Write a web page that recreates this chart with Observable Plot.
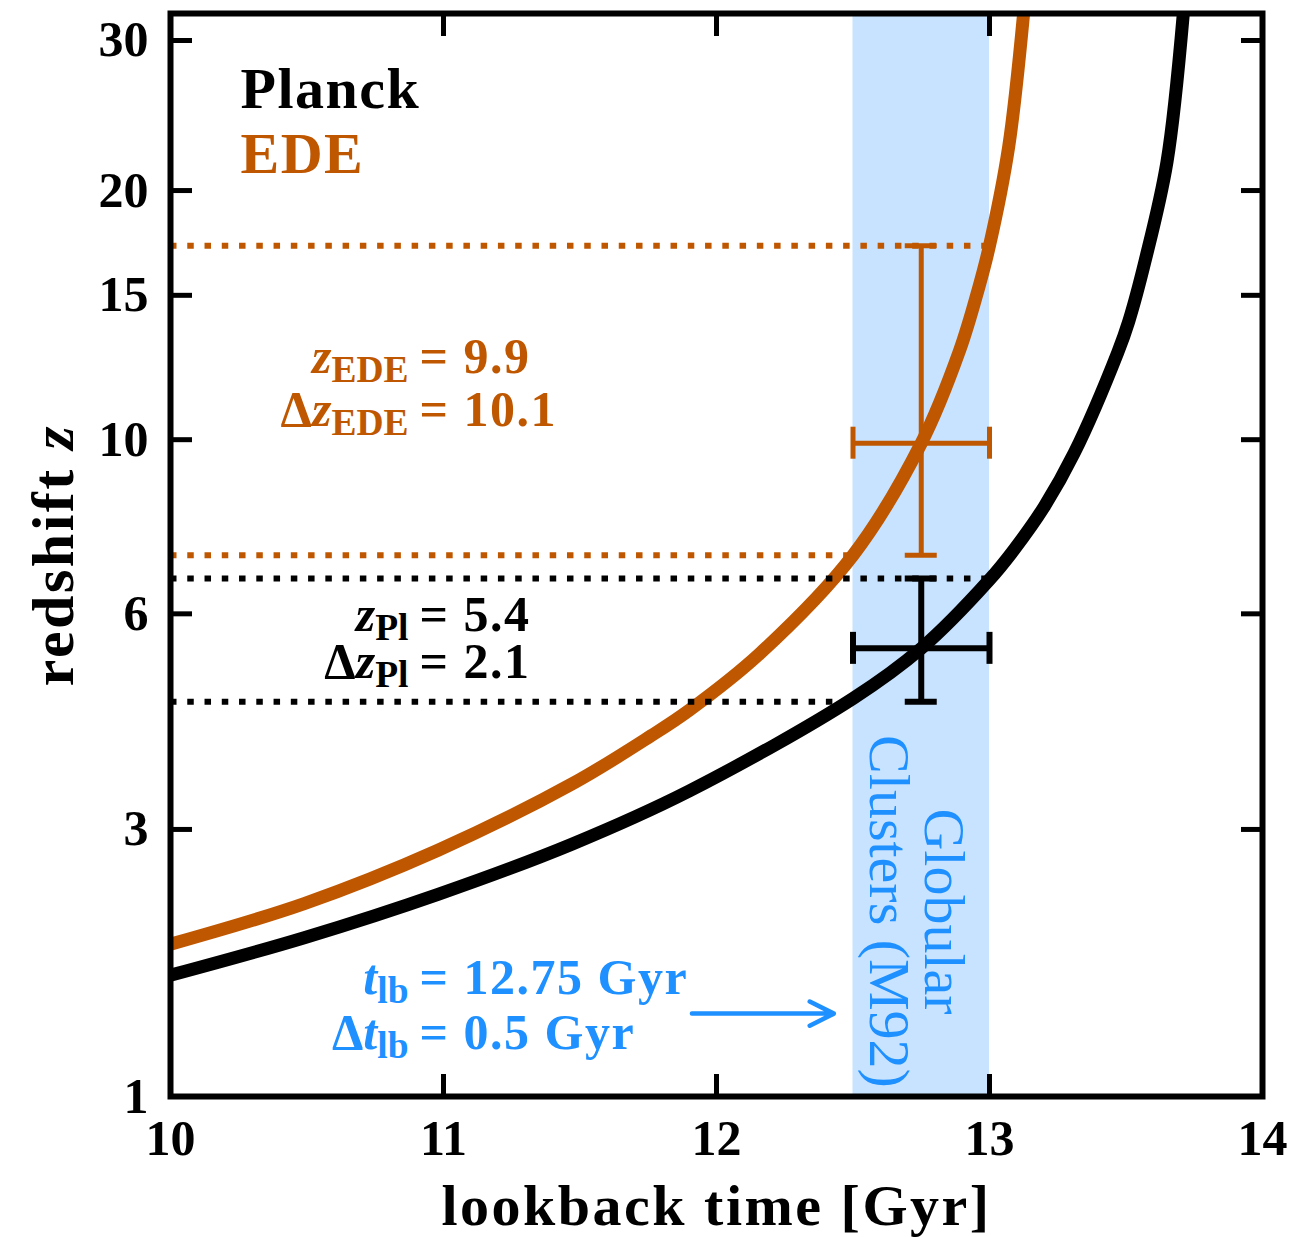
<!DOCTYPE html>
<html>
<head>
<meta charset="utf-8">
<script src="https://cdn.jsdelivr.net/npm/d3@7"></script>
<script src="https://cdn.jsdelivr.net/npm/@observablehq/plot@0.6"></script>
<style>
  html, body { margin: 0; padding: 0; background: #fff; }
  #chart svg { display: block; }
  g[aria-description="xlabel"] text { letter-spacing: 2.5px; }
  g[aria-description="ylabel"] text { letter-spacing: 2.5px; }
  g[aria-description="legend"] text { letter-spacing: 1.5px; }
  g[aria-description="rhs"] text { letter-spacing: 1.5px; }
</style>
</head>
<body>
<div id="chart"></div>
<script>
// ---------------- data ----------------
const seriesNames = ["Planck", "EDE"];

// Planck curve: lookback time [Gyr] -> redshift z
const planckT = [10.00, 10.49, 10.98, 11.47, 11.90, 12.50, 12.75, 13.00, 13.09, 13.20, 13.31, 13.47, 13.51, 13.57, 13.65, 13.71];
const planckZ = [1.74, 2.02, 2.38, 2.85, 3.42, 4.62, 5.40, 6.65, 7.27, 8.24, 9.62, 12.80, 13.95, 16.50, 21.61, 32.26];

// EDE curve
const edeT = [10.00, 10.49, 10.98, 11.47, 11.76, 11.90, 12.16, 12.50, 12.75, 12.89, 12.96, 13.00, 13.07, 13.125];
const edeZ = [1.97, 2.30, 2.79, 3.50, 4.10, 4.45, 5.32, 7.15, 9.90, 12.85, 15.30, 17.20, 22.50, 32.26];

// Globular cluster (M92) age band
const gcAge = 12.75, gcAgeLo = 12.5, gcAgeHi = 13.0;

// redshift ranges
const zPl = 5.4, zPlLo = 4.57, zPlHi = 6.67;
const zEDE = 9.9, zEDELo = 7.15, zEDEHi = 17.2;

// annotation labels
const annoPrefix = ["", "Δ", "", "Δ", "", "Δ"];
const annoVar = ["z", "z", "z", "z", "t", "t"];
const annoSub = ["EDE", "EDE", "Pl", "Pl", "lb", "lb"];
const annoValue = ["9.9", "10.1", "5.4", "2.1", "12.75 Gyr", "0.5 Gyr"];
const gcLabel = "Globular\nClusters (M92)";

// axis ticks
const xTicks = [10, 11, 12, 13, 14];
const zTicks = [1, 3, 6, 10, 15, 20, 30];

// ---------------- styling / layout ----------------
const ORANGE = "#bf5700";
const BLUE = "#1e90ff";
const BLACK = "#000000";
const annoColors = [ORANGE, ORANGE, BLACK, BLACK, BLUE, BLUE];
const annoBaselines = [359, 412, 617, 664, 980, 1035];
const arrowT = [11.91, 12.43], arrowZ = 1.48;

// ---------------- build ----------------
const planck = planckT.map((t, i) => ({t, z: planckZ[i]}));
const ede = edeT.map((t, i) => ({t, z: edeZ[i]}));
const Y = d => 1 + d.z;

const bars = [
  {t: gcAge, z: zPl, lo: zPlLo, hi: zPlHi, color: BLACK, w: 6},
  {t: gcAge, z: zEDE, lo: zEDELo, hi: zEDEHi, color: ORANGE, w: 5}
];

const dotted = bars.flatMap(b => [
  Plot.ruleY([{y: 1 + b.lo, x1: xTicks[0], x2: gcAgeLo}], {y: "y", x1: "x1", x2: "x2", stroke: b.color, strokeWidth: 6, strokeDasharray: "6.5,10.76"}),
  Plot.ruleY([{y: 1 + b.hi, x1: xTicks[0], x2: gcAgeHi}], {y: "y", x1: "x1", x2: "x2", stroke: b.color, strokeWidth: 6, strokeDasharray: "6.5,10.76"})
]);

const errMarks = bars.flatMap(b => [
  Plot.ruleX([b], {x: "t", y1: d => 1 + d.lo, y2: d => 1 + d.hi, stroke: b.color, strokeWidth: b.w}),
  Plot.ruleY([b], {y: d => 1 + d.z, x1: () => gcAgeLo, x2: () => gcAgeHi, stroke: b.color, strokeWidth: b.w}),
  Plot.ruleX([gcAgeLo, gcAgeHi], {x: d => d, y1: () => 1 + b.z, y2: () => 1 + b.z, insetTop: -16, insetBottom: -16, stroke: b.color, strokeWidth: b.w}),
  Plot.ruleY([b.lo, b.hi], {y: d => 1 + d, x1: () => b.t, x2: () => b.t, insetLeft: -16, insetRight: -16, stroke: b.color, strokeWidth: b.w})
]);

const annoMarks = annoValue.flatMap((v, i) => [
  Plot.text([annoPrefix[i] + annoVar[i] + annoSub[i]], {
    frameAnchor: "top-left", dx: 238, dy: annoBaselines[i], lineAnchor: "bottom", textAnchor: "end",
    fill: annoColors[i], fontSize: 50, ariaDescription: "lhs-" + i
  }),
  Plot.text(["= " + v], {
    frameAnchor: "top-left", dx: 249, dy: annoBaselines[i], lineAnchor: "bottom", textAnchor: "start",
    fill: annoColors[i], fontSize: 50, ariaDescription: "rhs"
  })
]);

const yTickVals = zTicks.map(z => 1 + z);

const svg = Plot.plot({
  width: 1313,
  height: 1237,
  marginTop: 13,
  marginBottom: 141,
  marginLeft: 170,
  marginRight: 51,
  x: {domain: [10, 14]},
  y: {type: "log", domain: [2, 33.25]},
  style: {fontFamily: "'Liberation Serif', 'DejaVu Serif', serif", fontWeight: "bold", fontSize: "50px", color: "black", background: "white"},
  marks: [
    Plot.rect([{x1: gcAgeLo, x2: gcAgeHi}], {x1: "x1", x2: "x2", fill: BLUE, fillOpacity: 0.25}),
    Plot.line(ede, {x: "t", y: Y, stroke: ORANGE, strokeWidth: 13, curve: "catmull-rom", clip: true}),
    Plot.line(planck, {x: "t", y: Y, stroke: BLACK, strokeWidth: 13, curve: "catmull-rom", clip: true}),
    ...dotted,
    ...errMarks,
    Plot.text([seriesNames[0]], {frameAnchor: "top-left", dx: 70, dy: 94, lineAnchor: "bottom", textAnchor: "start", fill: BLACK, fontSize: 58, ariaDescription: "legend"}),
    Plot.text([seriesNames[1]], {frameAnchor: "top-left", dx: 70, dy: 159, lineAnchor: "bottom", textAnchor: "start", fill: ORANGE, fontSize: 58, ariaDescription: "legend"}),
    ...annoMarks,
    Plot.text([gcLabel], {frameAnchor: "top-left", dx: 745, dy: 898, rotate: 90, textAnchor: "middle", lineAnchor: "middle", lineHeight: 0.95, fill: BLUE, fontSize: 58, fontWeight: "normal"}),
    Plot.arrow([{x1: arrowT[0], x2: arrowT[1], y: 1 + arrowZ}], {x1: "x1", x2: "x2", y1: "y", y2: "y", stroke: BLUE, strokeWidth: 4.5, headLength: 9, headAngle: 53}),
    Plot.text(["redshift z"], {frameAnchor: "left", dx: -98, rotate: -90, lineAnchor: "bottom", textAnchor: "middle", fontSize: 60, ariaDescription: "ylabel"}),
    Plot.text(["lookback time [Gyr]"], {frameAnchor: "bottom", dy: 128, lineAnchor: "bottom", textAnchor: "middle", fontSize: 58, ariaDescription: "xlabel"}),
    Plot.frame({stroke: BLACK, strokeWidth: 6}),
    Plot.axisX({anchor: "bottom", ticks: xTicks, tickSize: -22, strokeWidth: 5, fill: "none", label: null}),
    Plot.axisX({anchor: "top", ticks: xTicks, tickSize: -22, strokeWidth: 5, fill: "none", label: null}),
    Plot.axisX({anchor: "bottom", ticks: xTicks, tickSize: 0, tickPadding: 23, tickFormat: d => d.toFixed(0), fontSize: 50, label: null}),
    Plot.axisY({anchor: "left", ticks: yTickVals, tickSize: -22, strokeWidth: 5, fill: "none", label: null}),
    Plot.axisY({anchor: "right", ticks: yTickVals, tickSize: -22, strokeWidth: 5, fill: "none", label: null}),
    Plot.axisY({anchor: "left", ticks: yTickVals, tickSize: 0, tickPadding: 22, tickFormat: d => String(Math.round(d - 1)), fontSize: 50, label: null})
  ]
});
document.getElementById("chart").append(svg);

// ---------------- rich text (italic variables, subscripts) ----------------
const NS = "http://www.w3.org/2000/svg";
function setRich(el, parts) {
  if (!el) return;
  el.textContent = "";
  for (const p of parts) {
    const ts = document.createElementNS(NS, "tspan");
    ts.textContent = p.text;
    if (p.italic) ts.setAttribute("font-style", "italic");
    if (p.sub) { ts.setAttribute("font-size", "0.75em"); ts.setAttribute("dy", "0.25em"); }
    el.appendChild(ts);
  }
}
annoValue.forEach((v, i) => {
  const el = svg.querySelector(`g[aria-description="lhs-${i}"] text`);
  const parts = [];
  if (annoPrefix[i]) parts.push({text: annoPrefix[i]});
  parts.push({text: annoVar[i], italic: true});
  parts.push({text: annoSub[i], sub: true});
  setRich(el, parts);
});
setRich(svg.querySelector('g[aria-description="ylabel"] text'), [{text: "redshift "}, {text: "z", italic: true}]);
</script>
</body>
</html>
